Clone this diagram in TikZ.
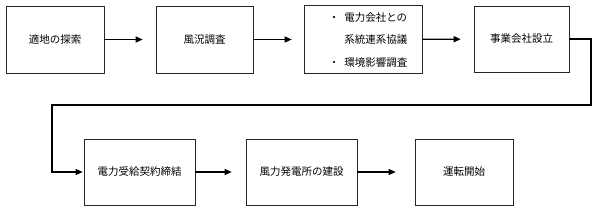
\documentclass[tikz,border=0pt]{standalone}
\usepackage{fontspec}
\newfontfamily\jpfont{Noto Sans CJK JP}
\usetikzlibrary{arrows.meta}
\begin{document}
\begin{tikzpicture}[x=1pt,y=-1pt,
  stepbox/.style={draw=black!85,line width=0.6pt,inner sep=0pt,minimum height=67pt,
    font=\jpfont\fontsize{10.5}{22.5}\selectfont},
  flow/.style={line width=1.2pt,-{Triangle[length=7pt,width=6pt]}}]
  \useasboundingbox (0,0) rectangle (596,211);
  % upper row
  \node[stepbox,minimum width=98pt] (site) at (55,39.5) {適地の探索};
  \node[stepbox,minimum width=97pt] (wind) at (204.5,39.5) {風況調査};
  \node[stepbox,minimum width=118pt] (talks) at (363,39.5)
    {\begin{tabular}{@{\hspace{10pt}}l@{\hspace{5pt}}l@{}}
      ・ & 電力会社との\\
         & 系統連系協議\\
      ・ & 環境影響調査
    \end{tabular}};
  \node[stepbox,minimum width=95pt,minimum height=66pt] (firm) at (521.5,39) {事業会社設立};
  % lower row
  \node[stepbox,minimum width=111pt,minimum height=66pt] (deal) at (139.5,172) {電力受給契約締結};
  \node[stepbox,minimum width=111pt,minimum height=66pt] (build) at (301.5,172) {風力発電所の建設};
  \node[stepbox,minimum width=98pt,minimum height=66pt] (run) at (464,172) {運転開始};
  % arrows
  \draw[flow,shorten >=13pt] (site) -- (wind);
  \draw[flow,shorten >=12pt] (wind) -- (talks);
  \draw[flow,shorten >=13pt] (talks) -- (firm);
  \coordinate (turnR) at (591,105);
  \coordinate (turnL) at (52,105);
  \draw[flow,line join=miter,shorten >=1pt] (firm.east) -| (turnR) -- (turnL) |- (deal.west);
  \draw[flow,shorten >=14pt] (deal) -- (build);
  \draw[flow,shorten >=19pt] (build) -- (run);
\end{tikzpicture}
\end{document}
